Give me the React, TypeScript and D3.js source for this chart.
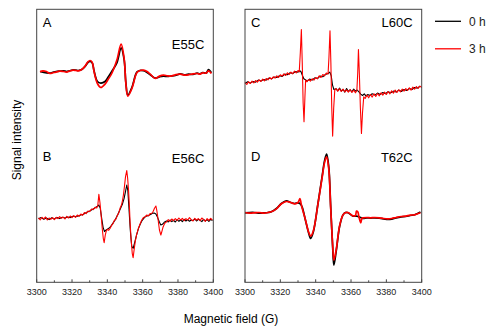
import * as d3 from 'd3'

const W = 493
const H = 329
const FONT = '"Liberation Sans", Arial, sans-serif'

// field axis (G)
const FIELD_DOMAIN = [3300, 3400]
const MAJOR_TICKS = [3300, 3320, 3340, 3360, 3380, 3400]
const MINOR_TICKS = [3310, 3330, 3350, 3370, 3390]

const TIMES = ['0 h', '3 h']
const COLORS = ['#000000', '#ff0000']

// spectra: [field (G), signal (a.u.)], signal relative to each trace's baseline
const A_0H: [number, number][] = [
  [3301.9, 0.3], [3303.5, -0.3], [3305.5, -1], [3307.5, -1.3], [3309.5, -0.3], [3311, 0.3], [3313, 0.7],
  [3315.1, 1], [3317, 0.3], [3318.5, 1], [3320.8, 2], [3322.2, 1.7], [3323.6, 1.3], [3325.5, 2.3],
  [3327.4, 5.3], [3329, 9.3], [3330.2, 10.3], [3331.4, 9], [3332.5, 0.7], [3334.4, -9.7], [3336.3, -11.3],
  [3338.7, -9.7], [3340.5, -5.3], [3342.5, 0.3], [3345.4, 9], [3347.8, 24], [3349.5, 12.3], [3350.5, -11],
  [3351.6, -23.3], [3353.9, -15.7], [3356.7, -0.3], [3358.5, 1.3], [3360.5, 1], [3362.5, -0.7], [3364.3, -3],
  [3367.1, -6.3], [3369.5, -5], [3371.8, -4.3], [3374, -4.7], [3376, -4.3], [3378.5, -3.7], [3381.3, -2],
  [3383.5, -3], [3386, -2.3], [3388.5, -2.7], [3390.8, -1.3], [3392.5, -2], [3394, -0.7], [3396, -1.3],
  [3397.3, 2.3], [3398.9, -1],
]
const A_3H: [number, number][] = [
  [3301.9, 0], [3303.5, 1], [3305.5, 0.3], [3307.5, -1.7], [3309.5, -0.7], [3311, -0.3], [3313, 0.7],
  [3315.1, 0.3], [3317, -0.3], [3318.5, 0.7], [3320.8, 1.7], [3322.2, 1.3], [3323.6, 1], [3325.5, 2.3],
  [3327.4, 5.7], [3329, 10], [3330.2, 11.3], [3331.4, 9.7], [3332.5, 0], [3334.4, -11.7], [3336.3, -15.7],
  [3338.7, -12.3], [3340.5, -7.5], [3342.5, -1.7], [3345.4, 11.7], [3347.8, 27.7], [3349.5, 13.3],
  [3350.5, -11.7], [3351.6, -24.3], [3353.9, -16.7], [3356.7, -1], [3358.5, 1.3], [3360.5, 1.7],
  [3362.5, 0.3], [3364.3, -2.3], [3367.1, -6.7], [3369.5, -4.3], [3371.8, -3.3], [3374, -4], [3376, -4.3],
  [3378.5, -3], [3381.3, -2.3], [3383.5, -3.3], [3386, -3], [3388.5, -2], [3390.8, -1.7], [3392.5, -2.3],
  [3394, -1], [3396, -1.3], [3397.3, 1], [3398.9, -1.7],
]

const B_0H: [number, number][] = [
  [3301, -0.5], [3302.5, 0.7], [3304, -1], [3305.5, 0.3], [3307, -1.3], [3308.5, 0.5], [3310, -0.7],
  [3311.5, 0.7], [3313, -0.3], [3314.5, 1], [3316, 0.3], [3317.5, 1.3], [3319, 0.7], [3320.5, 2],
  [3322, 1.7], [3323.5, 2.3], [3325, 3.3], [3326.5, 4], [3328, 5.7], [3329.5, 6.7], [3331, 8.3],
  [3332.5, 9.7], [3333.5, 11], [3334.5, 12], [3335.2, 13.3], [3336, 10], [3336.8, 0], [3337.6, -9],
  [3338.4, -13.3], [3339.3, -11.7], [3340.5, -10.3], [3341.6, -9], [3343, -5.3], [3344.4, -1.7],
  [3345.8, 3.3], [3347.2, 8.7], [3348.5, 14], [3349.5, 20], [3350.3, 27], [3351, 33.3], [3351.6, 28],
  [3352.3, 8], [3353, -12], [3353.8, -28], [3354.6, -30], [3355.5, -24], [3356.5, -17], [3357.6, -10.3],
  [3358.6, -6], [3359.5, -2.7], [3360.5, -0.3], [3361.5, 1.7], [3362.5, 2.3], [3363.5, 3], [3364.5, 3.7],
  [3365.5, 5], [3366.5, 5.3], [3367.5, 4.3], [3368.5, 0.7], [3369.5, -4], [3370.3, -6.7], [3371.2, -6],
  [3372.2, -4], [3373.5, -2.7], [3374.5, -3.7], [3375.5, -1.7], [3376.5, -3.3], [3377.5, -2], [3378.5, -3.7],
  [3379.5, -1.3], [3380.5, -3], [3381.5, -1.7], [3382.5, -3.3], [3383.5, -1], [3384.5, -2.7], [3385.5, -1.3],
  [3386.5, -3], [3387.5, -1.7], [3388.5, -2.3], [3389.5, -0.7], [3390.5, -2.7], [3391.5, -1], [3392.5, -2],
  [3393.5, -3.3], [3394.5, -1], [3395.5, -2.7], [3396.5, -1.3], [3397.5, -3], [3398.5, -1], [3399.5, -2.3],
]
const B_3H: [number, number][] = [
  [3301, 0.5], [3302, -1.5], [3303, 1], [3304, -0.5], [3305, 1.3], [3306, -1.7], [3307, 0.3], [3308, -1],
  [3309, 0.7], [3310, -1.3], [3311, 1], [3312, -0.3], [3313, 1.7], [3314, 0], [3315, 1.3], [3316, -0.7],
  [3317, 2], [3318, 0.3], [3319, 2.3], [3320, 0.7], [3321, 2.7], [3322, 1], [3323, 3.3], [3324, 2],
  [3325, 4.3], [3326, 3], [3327, 5.7], [3328, 4.7], [3329, 7.3], [3330, 6.7], [3331, 9.3], [3332, 8.7],
  [3333, 11], [3334, 10.3], [3334.6, 13], [3335.2, 24], [3335.8, 16], [3336.3, 6.7], [3337.2, -11.7],
  [3337.7, -20], [3338.2, -24.3], [3338.8, -17], [3339.3, -13.3], [3340, -11], [3340.8, -12], [3341.6, -10],
  [3342.4, -7], [3343.2, -5.3], [3344, -2], [3344.8, -1], [3345.6, 2.7], [3346.4, 5], [3347.2, 10],
  [3348, 13.3], [3348.6, 18], [3349.1, 23.3], [3349.7, 32], [3350.3, 41.7], [3351, 47.7], [3351.5, 40],
  [3352, 28.3], [3352.5, 12], [3352.9, -5], [3353.5, -22], [3354.1, -35], [3354.6, -39.3], [3355.2, -31],
  [3355.8, -23.3], [3356.6, -16], [3357.6, -10], [3358.5, -6], [3359.5, -1.7], [3360.4, 0.7], [3361.3, 1.3],
  [3362.4, 3.3], [3363.3, 2.3], [3364.2, 4.7], [3365.2, 5], [3366, 7], [3366.7, 10], [3367.5, 12.3],
  [3368, 8], [3368.4, 3.3], [3369, -5], [3369.5, -11.7], [3370.3, -16.7], [3370.9, -13], [3371.5, -9],
  [3372.5, -5], [3373.7, -3.3], [3374.5, -1.3], [3375.5, -3], [3376.5, -0.7], [3377.5, -2.3], [3378.5, -0.3],
  [3379.5, -2], [3380.5, 0.3], [3381.5, -1.7], [3382.5, 0], [3383.5, -2.3], [3384.5, -0.3], [3385.5, -1.7],
  [3386.5, 0.7], [3387.5, -1.3], [3388.5, -2.7], [3389.5, 0], [3390.5, -1.7], [3391.5, -0.3], [3392.5, -2.3],
  [3393.5, 0.3], [3394.5, -1.3], [3395.5, -3], [3396.5, -0.3], [3397.5, -2], [3398.5, 0], [3399.5, -1.7],
]

const C_0H: [number, number][] = [
  [3300, -0.7], [3301.5, 1], [3303, -0.3], [3304.5, 1.3], [3306, 0.7], [3307.5, 2.7], [3309, 1.7],
  [3310.5, 3.3], [3312, 2.7], [3313.5, 4.7], [3315, 4], [3316.5, 5.7], [3318, 5.3], [3319.5, 7],
  [3321, 6.3], [3322.5, 8.7], [3324, 8], [3325.5, 10], [3327, 9.3], [3328.5, 11.3], [3330, 10.7],
  [3331, 12], [3331.7, 11], [3332.5, 7.3], [3333.3, 4], [3334.2, 3], [3335.2, 1.7], [3336.5, 3.7],
  [3338, 2.7], [3339.5, 5], [3341, 4.3], [3342.5, 6.7], [3344, 6], [3345.5, 8.3], [3347, 9.3],
  [3348, 10.7], [3348.8, 7], [3349.5, -2], [3350.3, -6.7], [3351.5, -6], [3352.5, -8], [3353.5, -5.3],
  [3354.5, -8.3], [3355.5, -6.7], [3356.5, -9.3], [3357.5, -5.7], [3358.5, -8.7], [3359.5, -7],
  [3360.5, -9], [3361.5, -6.3], [3362.5, -8.3], [3363.5, -7.3], [3364.5, -9], [3365.5, -11.3],
  [3366.5, -12.7], [3367.5, -11], [3368.5, -13.3], [3369.5, -11.7], [3370.5, -12.7], [3372, -11],
  [3373.5, -12.3], [3375, -10.3], [3376.5, -11.7], [3378, -9.7], [3379.5, -11], [3381, -9], [3382.5, -10],
  [3384, -8.3], [3385.5, -9.3], [3387, -7.3], [3388.5, -8.7], [3390, -6.7], [3391.5, -7.7], [3393, -5.7],
  [3394.5, -6.7], [3396, -4.7], [3397.5, -5.3], [3399, -3.3],
]
const C_3H: [number, number][] = [
  [3300, 0.3], [3301, -1.7], [3302, 1], [3303, -0.7], [3304, 1.7], [3305, 0], [3306, 2.3], [3307, 0.7],
  [3308, 3], [3309, 1.3], [3310, 3.7], [3311, 2], [3312, 4.3], [3313, 3], [3314, 5.3], [3315, 3.7],
  [3316, 6], [3317, 4.7], [3318, 7], [3319, 5.3], [3320, 8], [3321, 6.7], [3322, 9], [3323, 7.3],
  [3324, 10], [3325, 8.3], [3326, 10.7], [3327, 9], [3328, 11.7], [3329, 10], [3330, 12.3], [3330.7, 11],
  [3331.3, 30], [3331.9, 53.3], [3332.4, 20], [3332.9, -20], [3333.4, -39], [3333.9, -15], [3334.3, 2.7],
  [3335, 1], [3336, 3.3], [3337, 1.7], [3338, 4], [3339, 2.7], [3340, 5.3], [3341, 4], [3342, 7],
  [3343, 5.3], [3344, 8.3], [3345, 7], [3346, 9.7], [3347, 8.7], [3347.5, 25], [3348.1, 52], [3348.6, 20],
  [3349.1, -25], [3349.6, -53.3], [3350.2, -25], [3350.8, -7.3], [3351.6, -5.7], [3352.5, -8.3],
  [3353.5, -6], [3354.5, -8.7], [3355.5, -6.3], [3356.5, -9], [3357.5, -7], [3358.5, -9.3], [3359.5, -6.7],
  [3360.5, -9.7], [3361.5, -7.3], [3362.5, -10], [3363.3, -8], [3363.8, 10], [3364.2, 33.3], [3364.7, 10],
  [3365.3, -25], [3365.9, -50.7], [3366.5, -30], [3367.2, -14], [3368, -15.7], [3369, -12.3], [3370, -15],
  [3371, -11.7], [3372, -14.3], [3373, -11], [3374, -13.7], [3375, -10.7], [3376, -13], [3377, -10],
  [3378, -12.3], [3379, -9.3], [3380, -11.7], [3381, -8.7], [3382, -11], [3383, -8], [3384, -10.3],
  [3385, -7.3], [3386, -9.7], [3387, -7], [3388, -9], [3389, -6.3], [3390, -8.3], [3391, -5.7], [3392, -7.7],
  [3393, -5], [3394, -7.3], [3395, -4.3], [3396, -6.3], [3397, -3.7], [3398, -5.7], [3399, -3.3], [3400, -4.7],
]

const D_0H: [number, number][] = [
  [3300, 0], [3302.5, 0.3], [3305.5, 0.3], [3308, -0.3], [3311.1, 0], [3313, 0.3], [3314.9, 1],
  [3317.8, 4.3], [3320.6, 9.3], [3323.4, 12], [3325.9, 10.3], [3328.1, 9.3], [3330, 10], [3331.1, 9.3],
  [3332.3, 6], [3334.2, -7.3], [3336.1, -20.7], [3337.2, -25.7], [3338.7, -19], [3341.3, 9.3],
  [3343.6, 36], [3345.1, 52.7], [3346.2, 58.7], [3347.4, 46], [3348.5, 6], [3349.6, -34], [3350.3, -52.3],
  [3351.7, -37.3], [3353.5, -14], [3355.4, -2.3], [3356.8, 0.3], [3358.3, 0], [3360, -2], [3361.1, -3.3],
  [3363.1, -3.3], [3365.5, -4.7], [3366.8, -5.7], [3369, -5], [3371, -5.3], [3373.4, -5], [3376, -5.3],
  [3378.5, -6], [3380.9, -6.7], [3383, -6.3], [3385.5, -5], [3388.5, -4], [3391, -3.7], [3393.5, -2.7],
  [3396, -2], [3399.3, 0.7],
]
const D_3H: [number, number][] = [
  [3300, 0.3], [3302.5, -0.3], [3305.5, 0], [3308, 0.3], [3311.1, -0.3], [3313, 0.3], [3314.9, 1],
  [3317.8, 4], [3320.6, 9], [3323.4, 11.3], [3325.9, 10.3], [3328.1, 9], [3330, 10.3], [3331.1, 14.3],
  [3331.7, 9.7], [3332.3, 5], [3334.2, -7], [3336.1, -19.7], [3337.2, -23.3], [3338.7, -18], [3341.3, 9],
  [3343.6, 34.7], [3345.1, 50.7], [3346.2, 56], [3347.4, 44], [3348.5, 5], [3349.6, -32], [3350.3, -47.3],
  [3351.7, -36], [3353.5, -13.3], [3355.4, -2.3], [3356.8, 0], [3358.3, 0.3], [3360, -1.7], [3361.1, -3],
  [3362.5, -2.7], [3363.1, 1.7], [3363.8, 1], [3364.6, -5], [3365.5, -10], [3366.2, -5.3], [3366.8, -5],
  [3369, -4.7], [3371, -5], [3373.4, -4.7], [3376, -5], [3378.5, -5.7], [3380.9, -6], [3383, -5.7],
  [3385.5, -4.7], [3388.5, -3.7], [3391, -3.3], [3393.5, -2.3], [3396, -2], [3399.3, 0],
]

type Trace = {
  letter: string
  mutant: string
  offset: number
  series: [number, number][][]
  smooth: boolean
  stroke: number
}

const LEFT: Trace[] = [
  {letter: 'A', mutant: 'E55C', offset: 210.5, series: [A_0H, A_3H], smooth: true, stroke: 1.7},
  {letter: 'B', mutant: 'E56C', offset: 64, series: [B_0H, B_3H], smooth: false, stroke: 1.1},
]
const RIGHT: Trace[] = [
  {letter: 'C', mutant: 'L60C', offset: 199.5, series: [C_0H, C_3H], smooth: false, stroke: 1.1},
  {letter: 'D', mutant: 'T62C', offset: 69.5, series: [D_0H, D_3H], smooth: true, stroke: 1.7},
]

const PANEL_TOP = 9.3
const PANEL_BOTTOM = 282.3

const Panel = ({x0, x1, traces}: {x0: number; x1: number; traces: Trace[]}) => {
  const xScale = d3.scaleLinear().domain(FIELD_DOMAIN).range([x0, x1])
  const yScale = d3.scaleLinear().domain([0, 273]).range([PANEL_BOTTOM, PANEL_TOP])

  const letterY = [26.5, 161]
  const mutantY = [[49, 162.5], [26.5, 161.5]]
  const isLeft = x0 < 100

  return (
    <g>
      {traces.map((t, ti) => {
        const line = d3
          .line<[number, number]>()
          .x(d => xScale(d[0]))
          .y(d => yScale(d[1] + t.offset))
          .curve(t.smooth ? d3.curveCatmullRom : d3.curveLinear)
        return (
          <g key={t.letter}>
            {t.series.map((s, si) => (
              <path
                key={si}
                d={line(s) ?? ''}
                fill="none"
                stroke={COLORS[si]}
                strokeWidth={t.stroke}
                strokeLinejoin="round"
              />
            ))}
            <text x={x0 + 6} y={letterY[ti]} fontSize={13} fontFamily={FONT} fill="#000">
              {t.letter}
            </text>
            <text
              x={x1 - 9}
              y={(isLeft ? mutantY[0] : mutantY[1])[ti]}
              fontSize={13}
              fontFamily={FONT}
              textAnchor="end"
              fill="#000">
              {t.mutant}
            </text>
          </g>
        )
      })}
      <rect
        x={x0}
        y={PANEL_TOP}
        width={x1 - x0}
        height={PANEL_BOTTOM - PANEL_TOP}
        fill="none"
        stroke="#444"
        strokeWidth={1}
      />
      {MAJOR_TICKS.map(v => (
        <g key={v}>
          <line x1={xScale(v)} x2={xScale(v)} y1={PANEL_BOTTOM} y2={PANEL_BOTTOM - 3} stroke="#444" />
          <text
            x={xScale(v)}
            y={294.5}
            fontSize={9}
            fontFamily={FONT}
            textAnchor="middle"
            fill="#222">
            {v}
          </text>
        </g>
      ))}
      {MINOR_TICKS.map(v => (
        <line key={v} x1={xScale(v)} x2={xScale(v)} y1={PANEL_BOTTOM} y2={PANEL_BOTTOM - 2} stroke="#444" />
      ))}
    </g>
  )
}

export default function App() {
  return (
    <svg
      width={W}
      height={H}
      style={{position: 'absolute', left: 0, top: 0, background: '#fff'}}>
      <rect width={W} height={H} fill="#fff" />
      <Panel x0={36.7} x1={213.3} traces={LEFT} />
      <Panel x0={245} x1={421.7} traces={RIGHT} />
      <text
        transform="translate(21,140) rotate(-90)"
        fontSize={12}
        fontFamily={FONT}
        textAnchor="middle"
        fill="#000">
        Signal intensity
      </text>
      <text x={231} y={323} fontSize={12} fontFamily={FONT} textAnchor="middle" fill="#000">
        Magnetic field (G)
      </text>
      {TIMES.map((t, i) => (
        <g key={t}>
          <line x1={435} x2={461} y1={21.3 + i * 27.5} y2={21.3 + i * 27.5} stroke={COLORS[i]} strokeWidth={1.3} />
          <text x={469} y={25.5 + i * 27.5} fontSize={12} fontFamily={FONT} fill="#222">
            {t}
          </text>
        </g>
      ))}
    </svg>
  )
}
